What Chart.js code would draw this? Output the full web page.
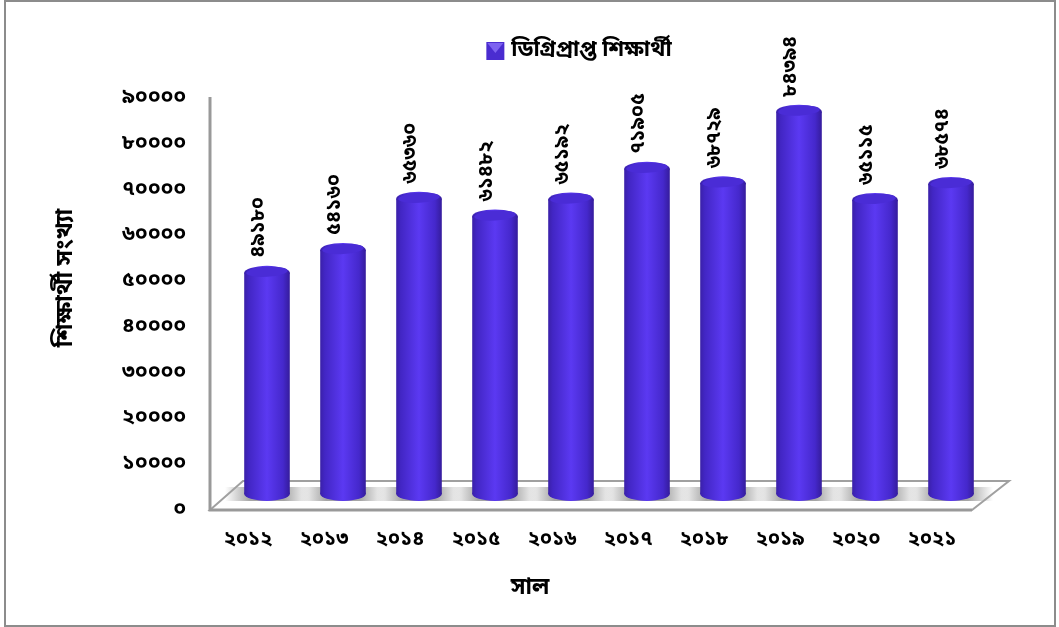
<!DOCTYPE html>
<html lang="bn">
<head>
    <meta charset="UTF-8">
    <title>ডিগ্রিপ্রাপ্ত শিক্ষার্থী</title>
    <script src="https://cdn.jsdelivr.net/npm/chart.js"></script>
    <style>
        html, body { margin: 0; padding: 0; background: #fff; }
        #wrap { width: 1059px; height: 627px; position: relative; }
    </style>
</head>
<body>
    <div id="wrap"><canvas id="degreeChart" width="1059" height="627"></canvas></div>
    <script>
const years = ["২০১২", "২০১৩", "২০১৪", "২০১৫", "২০১৬", "২০১৭", "২০১৮", "২০১৯", "২০২০", "২০২১"];
const students = [49180, 54160, 65360, 61482, 65192, 71905, 68729, 84394, 65115, 68574];
const studentLabels = ["৪৯১৮০", "৫৪১৬০", "৬৫৩৬০", "৬১৪৮২", "৬৫১৯২", "৭১৯০৫", "৬৮৭২৯", "৮৪৩৯৪", "৬৫১১৫", "৬৮৫৭৪"];
const yTicks = ["০", "১০০০০", "২০০০০", "৩০০০০", "৪০০০০", "৫০০০০", "৬০০০০", "৭০০০০", "৮০০০০", "৯০০০০"];
const xTitle = "সাল";
const yTitle = "শিক্ষার্থী সংখ্যা";

const FONT = "'Noto Sans', 'Noto Sans Bengali', 'DejaVu Sans', sans-serif";
const SHIFT_X = 19, SHIFT_Y = -11, CAP_RY = 7; // fake 3d depth of the bars

function barGradient(ctx, left, width) {
    const g = ctx.createLinearGradient(left, 0, left + width, 0);
    g.addColorStop(0, "#3a20a8");
    g.addColorStop(0.1, "#4226c4");
    g.addColorStop(0.5, "#5b39f2");
    g.addColorStop(0.85, "#4528cc");
    g.addColorStop(1, "#351c9c");
    return g;
}

// floor, frame and y axis line, under the bars
const floorPlugin = {
    id: "floor",
    beforeUpdate(chart) {
        // extra room between legend and plot
        const legend = chart.legend;
        if (legend.fitWrapped) return;
        legend.fitWrapped = true;
        const fit = legend.fit;
        legend.fit = function () {
            fit.call(this);
            this.height += 26;
        };
    },
    beforeDatasetsDraw(chart) {
        const { ctx, chartArea: a } = chart;
        const bars = chart.getDatasetMeta(0).data;
        ctx.save();
        ctx.strokeStyle = "#8c8c8c";
        ctx.lineWidth = 2;
        ctx.strokeRect(5, 1, 1050, 625);

        ctx.fillStyle = "#fff";
        ctx.strokeStyle = "#a0a0a0";
        ctx.beginPath();
        ctx.moveTo(a.left, a.bottom + 1);
        ctx.lineTo(a.left + 33, 481);
        ctx.lineTo(1009, 481);
        ctx.lineTo(972, a.bottom + 1);
        ctx.closePath();
        ctx.fill();
        ctx.stroke();

        bars.forEach(b => {
            const cx = b.x + SHIFT_X;
            const g = ctx.createLinearGradient(cx - 42, 0, cx + 42, 0);
            g.addColorStop(0, "rgba(165,165,165,0)");
            g.addColorStop(0.3, "rgba(165,165,165,1)");
            g.addColorStop(0.7, "rgba(165,165,165,1)");
            g.addColorStop(1, "rgba(165,165,165,0)");
            ctx.fillStyle = g;
            ctx.fillRect(cx - 42, 487, 84, 14);
        });

        ctx.strokeStyle = "#999";
        ctx.lineWidth = 3;
        ctx.beginPath();
        ctx.moveTo(a.left, a.top);
        ctx.lineTo(a.left, a.bottom + 1);
        ctx.lineTo(972, a.bottom + 1);
        ctx.stroke();
        ctx.restore();
    },
    beforeDatasetDraw(chart) {
        chart.ctx.save();
        chart.ctx.translate(SHIFT_X, SHIFT_Y);
    },
    afterDatasetDraw(chart) {
        const ctx = chart.ctx;
        chart.getDatasetMeta(0).data.forEach(b => {
            const left = b.x - b.width / 2;
            ctx.fillStyle = barGradient(ctx, left, b.width);
            ctx.beginPath();
            ctx.ellipse(b.x, b.base, b.width / 2, CAP_RY, 0, 0, Math.PI * 2);
            ctx.fill();
            // top face
            ctx.beginPath();
            ctx.ellipse(b.x, b.y, b.width / 2, CAP_RY, 0, 0, Math.PI * 2);
            ctx.fill();
            ctx.fillStyle = "#4a2cd6";
            ctx.beginPath();
            ctx.ellipse(b.x, b.y - 1, b.width / 2 - 2, CAP_RY - 2, -0.06, 0, Math.PI * 2);
            ctx.fill();
        });
        ctx.restore();
    },
    afterDatasetsDraw(chart) {
        const ctx = chart.ctx;
        ctx.save();
        ctx.fillStyle = "#000";
        ctx.font = "bold 20px " + FONT;
        ctx.textBaseline = "middle";
        ctx.textAlign = "left";
        chart.getDatasetMeta(0).data.forEach((b, i) => {
            ctx.save();
            ctx.translate(b.x + 10, b.y + SHIFT_Y - CAP_RY - 8);
            ctx.rotate(-Math.PI / 2);
            ctx.fillText(studentLabels[i], 0, 0);
            ctx.restore();
        });
        // axis titles sit off the plot centre in the original
        ctx.textAlign = "center";
        ctx.font = "bold 23px " + FONT;
        ctx.fillText(xTitle, 530, 587);
        ctx.font = "bold 24px " + FONT;
        ctx.translate(65, 278);
        ctx.rotate(-Math.PI / 2);
        ctx.fillText(yTitle, 0, 0);
        ctx.restore();
    },
    afterLayout(chart) {
        // legend sits right of the middle in the original
        chart.legend.left += 72;
        chart.legend.right += 72;
    },
    afterDraw(chart) {
        const box = chart.legend.legendHitBoxes[0];
        if (!box) return;
        const ctx = chart.ctx, s = 18, x = box.left + 4, y = 42;
        ctx.save();
        ctx.fillStyle = "#4a2cd0";
        ctx.fillRect(x, y, s, s);
        ctx.fillStyle = "#7d62f0";
        ctx.beginPath();
        ctx.moveTo(x + 1, y + 1);
        ctx.lineTo(x + s - 1, y + 1);
        ctx.lineTo(x + s / 2, y + s / 2 + 2);
        ctx.closePath();
        ctx.fill();
        ctx.restore();
    }
};

new Chart(document.getElementById("degreeChart"), {
    type: "bar",
    plugins: [floorPlugin],
    data: {
        labels: years,
        datasets: [{
            label: "ডিগ্রিপ্রাপ্ত শিক্ষার্থী",
            data: students,
            base: 900,
            barPercentage: 0.6,
            categoryPercentage: 1,
            backgroundColor(c) {
                const chart = c.chart;
                if (c.dataIndex === undefined || !chart.chartArea) return "#4a2cd0";
                const step = chart.chartArea.width / years.length;
                const width = step * 0.6;
                const left = chart.chartArea.left + step * (c.dataIndex + 0.5) - width / 2;
                return barGradient(chart.ctx, left, width);
            }
        }]
    },
    options: {
        responsive: false,
        animation: false,
        layout: { padding: { left: 40, right: 89, top: 12, bottom: 19 } },
        plugins: {
            legend: {
                position: "top",
                labels: {
                    boxWidth: 18,
                    boxHeight: 18,
                    color: "#000",
                    padding: 27,
                    font: { family: FONT, size: 22, weight: "bold" },
                    generateLabels(chart) {
                        // the box itself is painted in afterDraw
                        return Chart.defaults.plugins.legend.labels.generateLabels(chart).map(l => ({
                            ...l, fillStyle: "rgba(0,0,0,0)", strokeStyle: "rgba(0,0,0,0)"
                        }));
                    }
                }
            },
            tooltip: { enabled: false }
        },
        scales: {
            x: {
                afterFit(s) { s.height = 99; },
                grid: { display: false },
                border: { display: false },
                ticks: { color: "#000", padding: 10, maxRotation: 0, font: { family: FONT, size: 20, weight: "bold" } }
            },
            y: {
                min: 0,
                max: 90000,
                afterFit(s) { s.width = 170; },
                grid: { display: false },
                border: { display: false },
                ticks: {
                    stepSize: 10000,
                    color: "#000",
                    padding: 16,
                    font: { family: FONT, size: 21, weight: "bold" },
                    callback: (v, i) => yTicks[i]
                }
            }
        }
    }
});
    </script>
</body>
</html>
